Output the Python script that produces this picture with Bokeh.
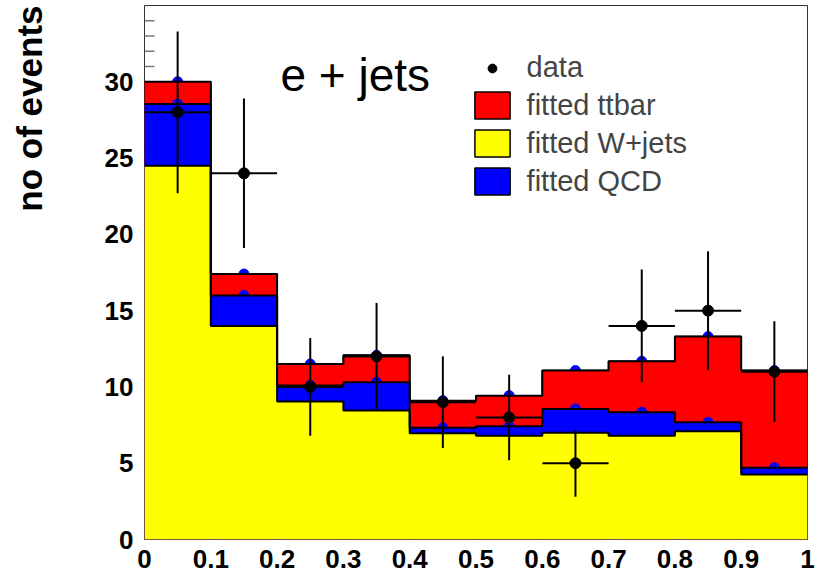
import numpy as np
from bokeh.plotting import figure
from bokeh.models import Range1d, FixedTicker, Label, Legend, LegendItem, Title
from bokeh.embed import file_html
from bokeh.resources import INLINE

# ---- data ----
bin_edges = [0.0, 0.1, 0.2, 0.3, 0.4, 0.5, 0.6, 0.7, 0.8, 0.9, 1.0]
wjets = [24.5, 14.0, 9.05, 8.45, 6.96, 6.80, 6.99, 6.80, 7.09, 4.26]
qcd = [4.05, 2.0, 1.05, 1.85, 0.37, 0.62, 1.57, 1.54, 0.59, 0.44]
ttbar = [1.45, 1.4, 1.4, 1.77, 1.77, 2.01, 2.51, 3.34, 5.62, 6.37]
data_counts = [28, 24, 10, 12, 9, 8, 5, 14, 15, 11]
data_err = [5.3, 4.9, 3.2, 3.5, 3.0, 2.8, 2.2, 3.7, 3.9, 3.3]

x_ticks = [0.0, 0.1, 0.2, 0.3, 0.4, 0.5, 0.6, 0.7, 0.8, 0.9, 1.0]
x_tick_labels = ["0", "0.1", "0.2", "0.3", "0.4", "0.5", "0.6", "0.7", "0.8", "0.9", "1"]
y_ticks = [0, 5, 10, 15, 20, 25, 30]
y_minor_ticks = [v for v in range(0, 35) if v % 5 != 0]

legend_labels = ["data", "fitted ttbar", "fitted W+jets", "fitted QCD"]
y_title = "no of events"
channel_text = "e + jets"

# ---- derived ----
edges = np.array(bin_edges)
left = edges[:-1]
right = edges[1:]
centers = (left + right) / 2
w = np.array(wjets)
wq = w + np.array(qcd)
tot = wq + np.array(ttbar)
cnt = np.array(data_counts, dtype=float)
err = np.array(data_err)


def stepped(h):
    return np.append(h, h[-1])


FONT = "Liberation Sans"

p = figure(width=815, height=578, output_backend="svg", toolbar_location=None,
           x_range=Range1d(0, 1), y_range=Range1d(0, 35),
           min_border_left=144, min_border_right=8, min_border_top=5, min_border_bottom=39,
           background_fill_color="white", border_fill_color="white")
p.grid.visible = False
p.outline_line_color = "#333333"
p.outline_line_width = 1

# inner tick marks of the y axis (covered by the histogram fills where they overlap)
p.ray(x=0, y=y_minor_ticks, length=10, length_units="screen", angle=0,
      line_color="#777777", line_width=1.5)
p.ray(x=0, y=y_ticks, length=20, length_units="screen", angle=0,
      line_color="#777777", line_width=1.5)

# legend renderers (stacked boxes with outline, fully hidden under the fills drawn next)
r_tt = p.quad(left=left, right=right, bottom=wq, top=tot, fill_color="red", line_color="black", line_width=1.5)
r_w = p.quad(left=left, right=right, bottom=0, top=w, fill_color="yellow", line_color="black", line_width=1.5)
r_q = p.quad(left=left, right=right, bottom=w, top=wq, fill_color="blue", line_color="black", line_width=1.5)

# markers at histogram tops (drawn under the fills)
p.scatter(centers, tot, size=10, color="blue")
p.varea_step(x=edges, y1=0, y2=stepped(tot), step_mode="after", fill_color="red")
p.scatter(centers, wq, size=10, color="blue")
p.varea_step(x=edges, y1=0, y2=stepped(wq), step_mode="after", fill_color="blue")
p.varea_step(x=edges, y1=0, y2=stepped(w), step_mode="after", fill_color="yellow")

for h in (tot, wq, w):
    p.step(x=edges, y=stepped(h), mode="after", line_color="black", line_width=2)

# data with error bars
p.segment(x0=centers, y0=cnt - err, x1=centers, y1=cnt + err, line_color="black", line_width=2)
p.segment(x0=left, y0=cnt, x1=right, y1=cnt, line_color="black", line_width=2)
data_r = p.scatter(centers, cnt, size=11, color="black")


def style_legend(lg):
    lg.label_text_font = FONT
    lg.label_text_font_size = "29px"
    lg.padding = 0
    lg.margin = 0
    lg.border_line_color = None
    lg.background_fill_alpha = 0
    lg.label_standoff = 13
    lg.glyph_width = 44


leg_a = Legend(items=[LegendItem(label=legend_labels[0], renderers=[data_r])],
               location=(325.6, 455))
style_legend(leg_a)
leg_a.glyph_height = 22
leg_b = Legend(items=[LegendItem(label=legend_labels[1], renderers=[r_tt]),
                      LegendItem(label=legend_labels[2], renderers=[r_w]),
                      LegendItem(label=legend_labels[3], renderers=[r_q])],
               location=(325.6, 340.7))
style_legend(leg_b)
leg_b.glyph_height = 34
leg_b.spacing = 4
p.add_layout(leg_a)
p.add_layout(leg_b)

# axes
xa = p.xaxis[0]
xa.ticker = FixedTicker(ticks=x_ticks)
xa.major_label_overrides = {t: l for t, l in zip(x_ticks, x_tick_labels)}
xa.major_tick_in = 0
xa.major_tick_out = 0
xa.minor_tick_in = 0
xa.minor_tick_out = 0
xa.axis_line_color = None
xa.major_label_standoff = 10
xa.major_label_text_font = FONT
xa.major_label_text_font_size = "26px"
xa.major_label_text_font_style = "bold"
xa.major_label_text_color = "black"

ya = p.yaxis[0]
ya.ticker = FixedTicker(ticks=y_ticks)
ya.major_tick_in = 0
ya.major_tick_out = 0
ya.minor_tick_in = 0
ya.minor_tick_out = 0
ya.axis_line_color = None
ya.major_label_standoff = 11
ya.major_label_text_font = FONT
ya.major_label_text_font_size = "26px"
ya.major_label_text_font_style = "bold"
ya.major_label_text_color = "black"
# blank spacer label: pushes the rotated title further out to the left
ya.axis_label = " "
ya.axis_label_text_font_size = "2px"
ya.axis_label_standoff = 36

p.add_layout(Label(x=136, y=465, x_units="screen", y_units="screen", text=channel_text,
                   text_font=FONT, text_font_size="46px", text_baseline="alphabetic",
                   text_color="black"))

t = Title(text=y_title, align="right", vertical_align="top", text_font=FONT,
          text_font_size="35px", text_font_style="bold", text_color="black", standoff=19)
p.add_layout(t, "left")

open("out.html", "w").write(file_html(p, INLINE))
